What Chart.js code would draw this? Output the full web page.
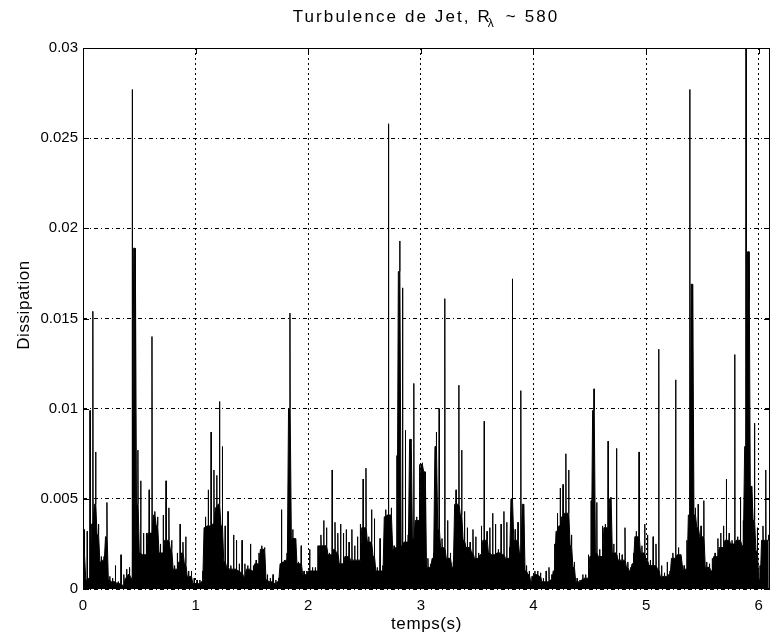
<!DOCTYPE html>
<html>
<head>
<meta charset="utf-8">
<script src="https://cdn.jsdelivr.net/npm/chart.js@4/dist/chart.umd.min.js"></script>
<style>
html,body{margin:0;padding:0;background:#fff;}
#wrap{width:775px;height:638px;position:relative;}
canvas{display:block;}
</style>
</head>
<body>
<div id="wrap"><canvas id="c" width="775" height="638"></canvas></div>
<script>
// Start time (s) of each 0.025 s window
const temps = [
0,0.025,0.05,0.075,0.1,0.125,0.15,0.175,0.2,0.225,0.25,0.275,0.3,0.325,0.35,0.375,0.4,0.425,0.45,0.475,0.5,0.525,0.55,0.575,0.6,0.625,0.65,0.675,0.7,0.725,0.75,0.775,0.8,0.825,0.85,0.875,0.9,0.925,0.95,0.975,
1,1.025,1.05,1.075,1.1,1.125,1.15,1.175,1.2,1.225,1.25,1.275,1.3,1.325,1.35,1.375,1.4,1.425,1.45,1.475,1.5,1.525,1.55,1.575,1.6,1.625,1.65,1.675,1.7,1.725,1.75,1.775,1.8,1.825,1.85,1.875,1.9,1.925,1.95,1.975,
2,2.025,2.05,2.075,2.1,2.125,2.15,2.175,2.2,2.225,2.25,2.275,2.3,2.325,2.35,2.375,2.4,2.425,2.45,2.475,2.5,2.525,2.55,2.575,2.6,2.625,2.65,2.675,2.7,2.725,2.75,2.775,2.8,2.825,2.85,2.875,2.9,2.925,2.95,2.975,
3,3.025,3.05,3.075,3.1,3.125,3.15,3.175,3.2,3.225,3.25,3.275,3.3,3.325,3.35,3.375,3.4,3.425,3.45,3.475,3.5,3.525,3.55,3.575,3.6,3.625,3.65,3.675,3.7,3.725,3.75,3.775,3.8,3.825,3.85,3.875,3.9,3.925,3.95,3.975,
4,4.025,4.05,4.075,4.1,4.125,4.15,4.175,4.2,4.225,4.25,4.275,4.3,4.325,4.35,4.375,4.4,4.425,4.45,4.475,4.5,4.525,4.55,4.575,4.6,4.625,4.65,4.675,4.7,4.725,4.75,4.775,4.8,4.825,4.85,4.875,4.9,4.925,4.95,4.975,
5,5.025,5.05,5.075,5.1,5.125,5.15,5.175,5.2,5.225,5.25,5.275,5.3,5.325,5.35,5.375,5.4,5.425,5.45,5.475,5.5,5.525,5.55,5.575,5.6,5.625,5.65,5.675,5.7,5.725,5.75,5.775,5.8,5.825,5.85,5.875,5.9,5.925,5.95,5.975,
6,6.025,6.05,6.075
];
// Dissipation: dense (lower) level in each window
const creux = [
.0019,.0005,.0006,.0036,.0047,.003,.0015,.0016,.0029,.0005,.0004,.0004,.0003,.0003,.0002,.0006,.0008,.0006,.0189,.0047,.002,.0019,.0019,.0031,.0031,.0041,.0035,.002,.002,.0027,.0027,.0022,.0011,.0011,.0015,.002,.0014,.0007,.0007,.0003,
.0003,.0003,.0004,.0034,.0035,.0035,.0036,.0045,.0047,.0035,.0015,.0012,.0011,.0011,.0011,.001,.0009,.0007,.0011,.0011,.001,.0014,.0014,.0022,.0022,.0005,.0004,.0004,.0003,.0004,.0014,.0015,.0016,.01,.0028,.0028,.0014,.0014,.0008,.0008,
.001,.001,.001,.001,.0024,.0024,.0024,.0019,.0019,.0022,.002,.0014,.0014,.0018,.0018,.0016,.0016,.0016,.0016,.0034,.0034,.0026,.0026,.0018,.001,.001,.001,.004,.0041,.0041,.0022,.0023,.0176,.0024,.0026,.0026,.0083,.0028,.0038,.0038,
.0069,.0065,.0012,.0012,.0017,.0079,.0033,.0023,.0023,.0017,.0017,.0012,.0047,.0047,.0041,.0027,.0023,.0023,.002,.0017,.0017,.0019,.0027,.0027,.002,.0019,.0019,.002,.002,.0019,.0017,.0017,.005,.0027,.0027,.002,.0047,.001,.0008,.0004,
.0008,.0008,.0007,.0004,.0004,.0004,.0005,.001,.0032,.0035,.004,.0042,.0042,.0024,.0012,.0004,.0004,.0005,.0006,.0006,.0018,.0099,.002,.0018,.0018,.0034,.0034,.005,.002,.002,.0016,.0016,.0016,.0012,.001,.0014,.0029,.0029,.002,.002,
.0016,.0013,.0013,.0013,.0011,.0007,.0007,.0007,.0008,.0017,.0017,.0019,.0019,.0011,.0011,.0041,.0169,.0041,.0034,.0029,.0029,.0012,.0012,.001,.0018,.0018,.0023,.0023,.0027,.0027,.0025,.0025,.0027,.0027,.0024,.0079,.0187,.0057,.0038,.0021,
.0005,.0027,.0027,.0027
];
// Dissipation: peak within each window
const pics = [
.0033,.0032,.0099,.0154,.0076,.0036,.0018,.0018,.0048,.0007,.0006,.0013,.0004,.0019,.0008,.0011,.0012,.0277,.003,.0077,.006,.0031,.0031,.0055,.014,.0043,.004,.0025,.0041,.006,.0045,.0027,.0013,.002,.0036,.0026,.0029,.001,.001,.0006,
.0005,.0005,.001,.004,.0055,.0087,.0066,.0063,.0104,.0079,.0035,.0043,.0013,.003,.0027,.0014,.0027,.0014,.0013,.0025,.0013,.0016,.002,.0024,.0023,.0008,.0006,.0008,.0005,.0006,.0044,.0016,.002,.0153,.0033,.0018,.0015,.0024,.001,.001,
.0022,.0012,.0012,.0024,.003,.0038,.0034,.002,.0066,.0037,.0031,.0036,.0031,.0033,.0026,.0033,.0024,.0029,.0036,.0061,.0067,.0029,.0044,.0039,.0012,.0028,.0013,.0044,.0258,.0045,.0024,.0074,.0193,.0167,.0088,.003,.0082,.0114,.004,.0069,
.007,.0037,.0017,.0014,.002,.0087,.01,.0028,.0161,.0038,.002,.0015,.0055,.0113,.0077,.0043,.0034,.0026,.0033,.0029,.002,.0035,.0093,.0032,.0034,.0042,.0036,.0022,.0036,.0043,.0037,.0023,.0172,.0033,.0037,.011,.0025,.0013,.001,.0007,
.001,.001,.0009,.0006,.001,.0012,.0008,.0025,.0042,.0056,.0058,.0075,.0066,.003,.0015,.0006,.0005,.0008,.0008,.0019,.0049,.0111,.0048,.0022,.0035,.0036,.0082,.0051,.0025,.0078,.002,.0019,.0034,.0015,.0012,.002,.0032,.0076,.0024,.0036,
.003,.0016,.0029,.0025,.0133,.0013,.0009,.0015,.001,.002,.0116,.0023,.0019,.0013,.0027,.0277,.0043,.0045,.0047,.0035,.0049,.0015,.0014,.0017,.002,.0028,.0031,.0035,.0061,.0031,.0027,.013,.0029,.0051,.0038,.031,.016,.0034,.0092,.0034,
.0013,.0035,.0066,.003
];
const xTicks = [0,1,2,3,4,5,6];
const xTickLabels = ['0','1','2','3','4','5','6'];
const yTicks = [0,0.005,0.01,0.015,0.02,0.025,0.03];
const yTickLabels = ['0','0.005','0.01','0.015','0.02','0.025','0.03'];
const titleMain = 'Turbulence de Jet, R';
const titleSub = 'λ';
const titleEnd = ' ~ 580';
const xLabel = 'temps(s)';
const yLabel = 'Dissipation';

// each window: dense level, then a thin spike to its peak, back to the dense level
const spikeAt = 0.0125, spikeHalf = 0.002;
const points = [];
for (let i = 0; i < temps.length; i++) {
  points.push({x: temps[i], y: creux[i]});
  points.push({x: temps[i] + spikeAt - spikeHalf, y: creux[i]});
  points.push({x: temps[i] + spikeAt, y: pics[i]});
  points.push({x: temps[i] + spikeAt + spikeHalf, y: creux[i]});
}

const FONT = '"Liberation Sans", Arial, Helvetica, sans-serif';

const decor = {
  id: 'decor',
  afterDraw(chart) {
    const {ctx, chartArea: a, scales} = chart;
    const xs = scales.x, ys = scales.y;
    ctx.save();
    ctx.strokeStyle = '#000';
    ctx.lineWidth = 1;
    ctx.setLineDash([]);
    ctx.strokeRect(a.left + 0.5, a.top + 0.5, a.right - a.left - 1, a.bottom - a.top - 1);
    const tl = 6;
    ctx.beginPath();
    xTicks.forEach(v => {
      const px = Math.round(xs.getPixelForValue(v)) + 0.5;
      ctx.moveTo(px, a.bottom); ctx.lineTo(px, a.bottom - tl);
      ctx.moveTo(px, a.top); ctx.lineTo(px, a.top + tl);
    });
    yTicks.forEach(v => {
      const py = Math.round(ys.getPixelForValue(v)) + 0.5;
      ctx.moveTo(a.left, py); ctx.lineTo(a.left + tl, py);
      ctx.moveTo(a.right, py); ctx.lineTo(a.right - tl, py);
    });
    ctx.stroke();

    ctx.fillStyle = '#000';
    // title
    ctx.letterSpacing = '2.1px';
    ctx.font = '17px ' + FONT;
    const w1 = ctx.measureText(titleMain).width;
    const w3 = ctx.measureText(titleEnd).width;
    ctx.font = '12px ' + FONT;
    const w2 = ctx.measureText(titleSub).width;
    const total = w1 + w2 + w3;
    const cx = (a.left + a.right) / 2;
    let tx = cx - total / 2;
    const base = 22;
    ctx.textBaseline = 'alphabetic';
    ctx.textAlign = 'left';
    ctx.font = '17px ' + FONT;
    ctx.fillText(titleMain, tx, base);
    tx += w1 - 4;
    ctx.font = '12px ' + FONT;
    ctx.fillText(titleSub, tx, base + 5);
    tx += w2 + 3;
    ctx.font = '17px ' + FONT;
    ctx.fillText(titleEnd, tx, base);

    // axis labels
    ctx.letterSpacing = '0.6px';
    ctx.font = '17px ' + FONT;
    ctx.textAlign = 'center';
    ctx.textBaseline = 'middle';
    ctx.fillText(xLabel, cx, 624);
    ctx.translate(24, 305);
    ctx.rotate(-Math.PI / 2);
    ctx.fillText(yLabel, 0, 0);
    ctx.restore();
  }
};

new Chart(document.getElementById('c'), {
  type: 'line',
  data: {
    datasets: [{
      label: 'Dissipation',
      data: points,
      borderColor: '#000',
      backgroundColor: '#000',
      borderWidth: 1,
      pointRadius: 0,
      tension: 0,
      fill: 'origin'
    }]
  },
  options: {
    responsive: false,
    animation: false,
    devicePixelRatio: 1,
    layout: {padding: {top: 48, right: 5, left: 0, bottom: 0}},
    plugins: {legend: {display: false}, title: {display: false}, tooltip: {enabled: false}},
    scales: {
      x: {
        type: 'linear',
        min: 0,
        max: 6.1,
        afterFit: s => { s.height = 49; },
        afterBuildTicks: s => { s.ticks = xTicks.map(v => ({value: v})); },
        ticks: {
          color: '#000',
          padding: 8,
          maxRotation: 0,
          autoSkip: false,
          font: {family: FONT, size: 15},
          callback: (v, i) => xTickLabels[i]
        },
        grid: {color: '#000', lineWidth: 1, drawTicks: false},
        border: {display: false, dash: [2, 3]}
      },
      y: {
        type: 'linear',
        min: 0,
        max: 0.03,
        afterFit: s => { s.width = 83; },
        afterBuildTicks: s => { s.ticks = yTicks.map(v => ({value: v})); },
        ticks: {
          color: '#000',
          padding: 5,
          autoSkip: false,
          font: {family: FONT, size: 15},
          callback: (v, i) => yTickLabels[i]
        },
        grid: {color: '#000', lineWidth: 1, drawTicks: false},
        border: {display: false, dash: [4, 3, 1, 3]}
      }
    }
  },
  plugins: [decor]
});
</script>
</body>
</html>
